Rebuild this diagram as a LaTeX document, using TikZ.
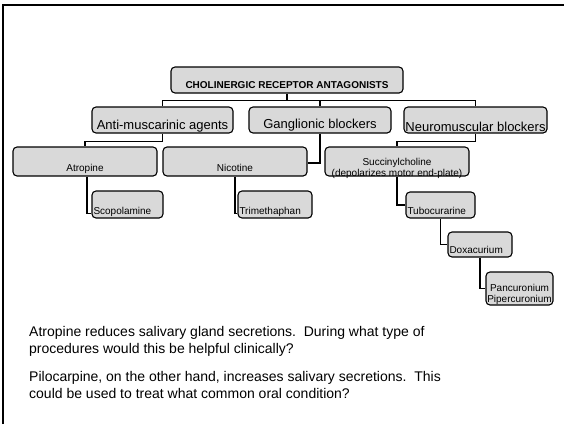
\documentclass[tikz,border=0pt]{standalone}
\usepackage{fontspec}
\setmainfont{Liberation Sans}
\usepackage{xcolor}
\usepackage{tikz}
\usetikzlibrary{positioning,calc}

\definecolor{boxgray}{RGB}{217,217,217}

\begin{document}
\begin{tikzpicture}[
  x=1pt, y=-1pt,
  box/.style={draw, rounded corners=4pt, fill=boxgray, line width=1.1pt,
    inner xsep=1pt, inner ysep=0pt},
  rootbox/.style={box, font=\fontsize{10}{12}\selectfont\bfseries},
  headbox/.style={box, font=\fontsize{13}{15}\selectfont},
  drugbox/.style={box, font=\fontsize{10}{11}\selectfont, align=center},
  leafbox/.style={box, font=\fontsize{10}{11}\selectfont, inner xsep=1.5pt, align=left},
  question/.style={font=\fontsize{14}{17}\selectfont, align=left, inner sep=0pt},
  link/.style={draw, line width=1.4pt},
  frame/.style={draw, line width=2pt}
]
\useasboundingbox (0,0) rectangle (564,424);
\draw[frame] (3,424) -- (3,5) -- (564,5);

% tree
\node[rootbox, minimum width=232pt, text height=21.6pt, text depth=4.4pt] (root) at (287,80) {CHOLINERGIC RECEPTOR ANTAGONISTS};

\node[headbox, minimum width=141pt, text height=22pt, text depth=4pt] (antimusc) at (162.5,120) {Anti-muscarinic agents};
\node[headbox, minimum width=142pt, text height=21pt, text depth=5pt] (ganglionic) at (320,120) {Ganglionic blockers};
\node[headbox, minimum width=143pt, text height=24pt, text depth=2pt] (neuro) at (475.5,120) {Neuromuscular blockers};

\node[drugbox, minimum width=144pt, text height=24.5pt, text depth=4.5pt] (atropine) at (85,161.5) {Atropine};
\node[drugbox, minimum width=144pt, text height=24.5pt, text depth=4.5pt] (nicotine) at (235,161.5) {Nicotine};
\node[drugbox, minimum width=144pt, text height=29pt, text depth=0pt] (succinyl) at (397,161.5) {Succinylcholine\\(depolarizes motor end-plate)};

\node[leafbox, text width=68pt, text height=23pt, text depth=4pt] (scopolamine) at (127.5,204.5) {Scopolamine};
\node[leafbox, text width=71pt, text height=23pt, text depth=4pt] (trimethaphan) at (275,204.5) {Trimethaphan};
\node[leafbox, text width=66pt, text height=22pt, text depth=4pt] (tubocurarine) at (440.5,205) {Tubocurarine};
\node[leafbox, text width=61pt, text height=21.5pt, text depth=3.5pt] (doxacurium) at (480,244.5) {Doxacurium};
\node[drugbox, minimum width=67pt, text height=30.5pt, text depth=2.5pt] (pancuronium) at (519.5,288.5) {Pancuronium\\Pipercuronium};

\draw[link] (root.south) -- ++(0,7) coordinate (bus) -| (antimusc.north);
\draw[link] (bus) -| (ganglionic.north);
\draw[link] (bus) -| (neuro.north);
\draw[link] (antimusc.south) -- ++(0,8) -| (atropine.north);
\draw[link] (ganglionic.south) |- ([yshift=-1.5pt]nicotine.east);
\draw[link] (neuro.south) -- ++(0,8) -| (succinyl.north);
\draw[link] ([xshift=2pt]atropine.south) |- ([yshift=5pt]scopolamine.south west);
\draw[link] (nicotine.south) |- ([yshift=5pt]trimethaphan.south west);
\draw[link] (succinyl.south) |- (tubocurarine.west);
\draw[link] (tubocurarine.south) |- (doxacurium.west);
\draw[link] (doxacurium.south) |- (pancuronium.west);

% questions
\node[question, anchor=north west] (q1) at (29,326) {Atropine reduces salivary gland secretions.\ \ During what type of\\procedures would this be helpful clinically?};
\node[question, anchor=north west] (q2) at (29,371) {Pilocarpine, on the other hand, increases salivary secretions.\ \ This\\could be used to treat what common oral condition?};
\end{tikzpicture}
\end{document}
